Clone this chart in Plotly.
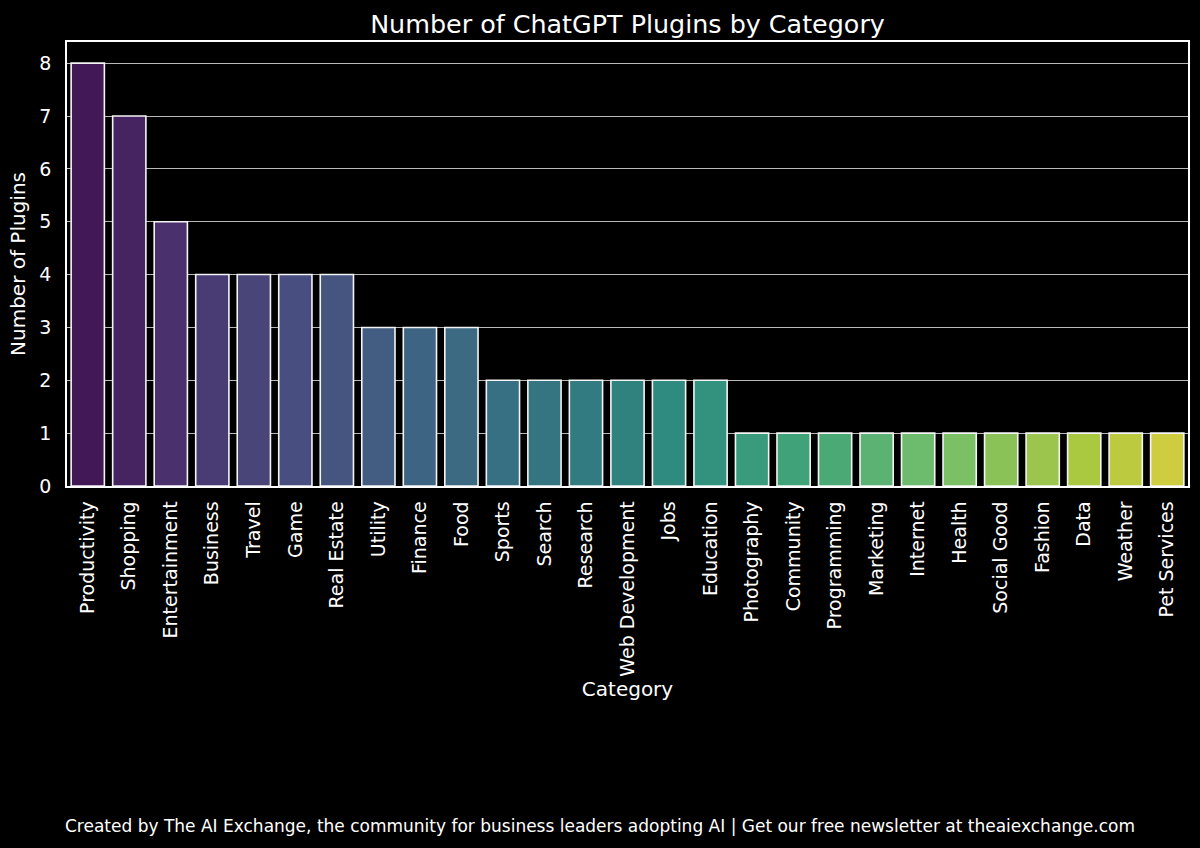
import colorsys
import plotly.graph_objects as go
from plotly.colors import sample_colorscale, unlabel_rgb

categories = ["Productivity", "Shopping", "Entertainment", "Business", "Travel", "Game",
              "Real Estate", "Utility", "Finance", "Food", "Sports", "Search", "Research",
              "Web Development", "Jobs", "Education", "Photography", "Community",
              "Programming", "Marketing", "Internet", "Health", "Social Good", "Fashion",
              "Data", "Weather", "Pet Services"]
counts = [8, 7, 5, 4, 4, 4, 4, 3, 3, 3, 2, 2, 2, 2, 2, 2, 1, 1, 1, 1, 1, 1, 1, 1, 1, 1, 1]
y_ticks = [0, 1, 2, 3, 4, 5, 6, 7, 8]

title_text = "Number of ChatGPT Plugins by Category"
x_title = "Category"
y_title = "Number of Plugins"
footer = ("Created by The AI Exchange, the community for business leaders adopting AI | "
          "Get our free newsletter at theaiexchange.com")

# viridis palette (seaborn-style sampling) with 0.75 desaturation
n = len(categories)
pos = [(i + 1) / (n + 1) for i in range(n)]
raw = sample_colorscale("Viridis", pos)
colors = []
for c in raw:
    r, g, b = [v / 255 for v in unlabel_rgb(c)]
    h, l, s = colorsys.rgb_to_hls(r, g, b)
    r, g, b = colorsys.hls_to_rgb(h, l, s * 0.75)
    colors.append(f"rgb({round(r*255)},{round(g*255)},{round(b*255)})")

FONT = "DejaVu Sans"
W, H = 1200, 848
ML, MR, MT, MB = 67, 12, 42, 362
plot_h = H - MT - MB
plot_w = W - ML - MR

fig = go.Figure(go.Bar(
    x=categories, y=counts, width=0.8,
    marker=dict(color=colors, line=dict(color="#f4f4f4", width=1.6)),
))

fig.update_layout(
    width=W, height=H,
    paper_bgcolor="black", plot_bgcolor="black",
    margin=dict(l=ML, r=MR, t=MT, b=MB),
    font=dict(family=FONT, color="white", size=19),
    showlegend=False,
    title=dict(text=title_text, xref="paper", x=0.5, xanchor="center",
               yref="container", y=1 - 24 / H, yanchor="middle",
               font=dict(size=25.4, color="white", family=FONT)),
)

fig.update_xaxes(
    range=[-0.5, n - 0.5], tickangle=-90, showgrid=False,
    showline=True, linecolor="white", linewidth=1.5, mirror=True,
    ticks="outside", ticklen=6, tickcolor="black",
    tickfont=dict(size=19, color="white"),
    title=dict(text=x_title, standoff=6, font=dict(size=20, color="white")),
    automargin=False,
)
fig.update_yaxes(
    range=[0, 8.4], tickvals=y_ticks, showgrid=True, gridcolor="#b8b8b8", gridwidth=1.2,
    zeroline=False,
    showline=True, linecolor="white", linewidth=1.5, mirror=True,
    ticks="outside", ticklen=10, tickcolor="black",
    tickfont=dict(size=19, color="white"),
    title=dict(text=y_title, standoff=8, font=dict(size=20, color="white")),
    automargin=False,
)

footer_x = (W / 2 - ML) / plot_w
footer_y = (H - MB - 826) / plot_h
fig.add_annotation(text=footer, x=footer_x, xref="paper", xanchor="center",
                   y=footer_y, yref="paper", yanchor="middle",
                   showarrow=False, font=dict(size=17, color="white", family=FONT))

fig.write_html("out.html")
